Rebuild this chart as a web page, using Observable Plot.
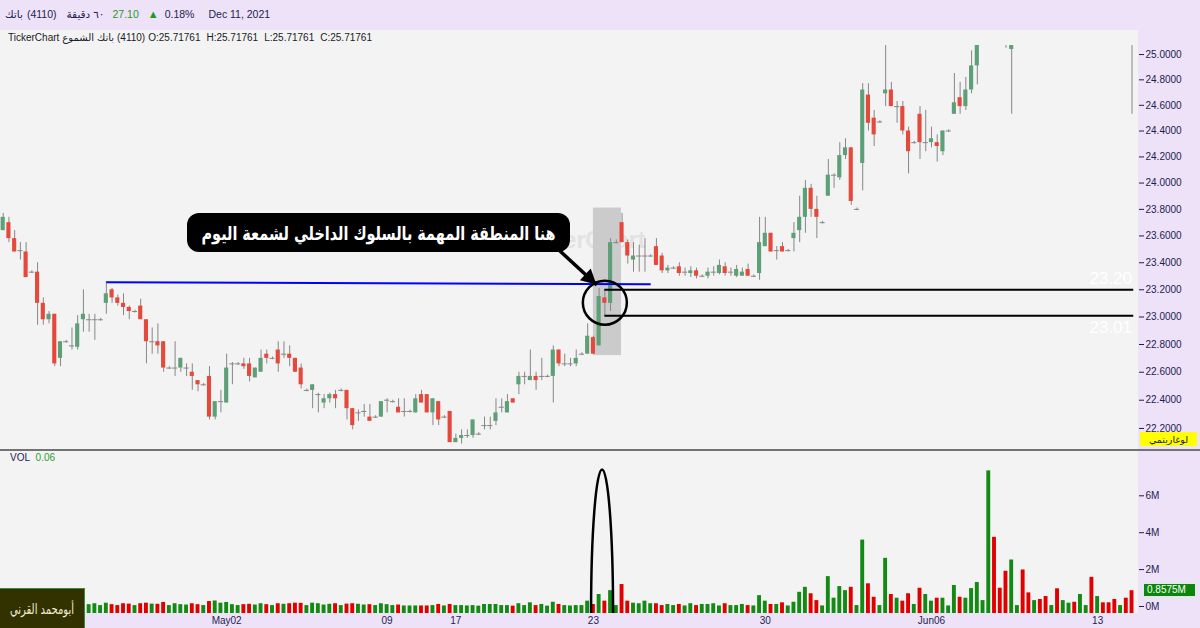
<!DOCTYPE html>
<html>
<head>
<meta charset="utf-8">
<script src="https://cdn.jsdelivr.net/npm/d3@7"></script>
<script src="https://cdn.jsdelivr.net/npm/@observablehq/plot@0.6"></script>
<style>
  html, body { margin: 0; padding: 0; }
  body { width: 1200px; height: 628px; overflow: hidden; background: #f3f3f3;
         font-family: "Liberation Sans", "DejaVu Sans", Arial, sans-serif; }
  #root { position: relative; width: 1200px; height: 628px; }
  .abs { position: absolute; }
  .row { display: flex; align-items: center; white-space: nowrap; }
  .fit { display: inline-block; white-space: nowrap; transform-origin: center center; }
</style>
</head>
<body>
<div id="root"></div>
<script>
// ---- 60-minute candles, 4110 ----
const opens = [
  23.64,23.70,23.58,23.49,23.48,23.33,23.33,23.10,22.98,23.02,
  22.70,22.82,22.79,22.78,22.98,22.98,22.98,22.98,23.10,23.20,
  23.14,23.10,23.07,23.04,23.08,22.98,22.82,22.82,22.82,22.63,
  22.63,22.63,22.63,22.60,22.54,22.51,22.57,22.28,22.39,22.38,
  22.66,22.66,22.66,22.66,22.56,22.60,22.73,22.70,22.76,22.73,
  22.73,22.70,22.63,22.47,22.47,22.44,22.38,22.41,22.44,22.47,
  22.47,22.34,22.31,22.32,22.28,22.28,22.28,22.40,22.39,22.35,
  22.32,22.32,22.31,22.44,22.44,22.31,22.39,22.28,22.32,22.10,
  22.13,22.15,22.15,22.16,22.22,22.22,22.25,22.35,22.31,22.41,
  22.51,22.57,22.54,22.57,22.57,22.57,22.57,22.76,22.66,22.66,
  22.66,22.73,22.73,22.85,22.79,23.14,23.10,23.55,23.70,23.55,
  23.42,23.45,23.45,23.45,23.52,23.45,23.34,23.36,23.37,23.33,
  23.32,23.34,23.30,23.30,23.33,23.32,23.37,23.33,23.30,23.30,
  23.35,23.30,23.32,23.52,23.62,23.49,23.52,23.49,23.58,23.64,
  23.74,23.96,23.80,23.70,23.90,24.06,24.04,24.21,24.27,23.80,
  24.15,24.68,24.50,24.47,24.69,24.72,24.59,24.59,24.40,24.31,
  24.53,24.31,24.31,24.31,24.24,24.40,24.53,24.66,24.59,24.72,
  24.91,25.12,25.20,25.90,25.70,25.60,25.04,25.50,25.55,25.35,
  25.25,25.35,25.30,25.22,25.26,25.16,25.28,25.36,25.30,25.46,
  25.48,25.26,25.36,25.32,25.28,25.20,25.24,25.18
];
const highs = [
  23.77,23.74,23.64,23.55,23.55,23.34,23.40,23.14,23.04,23.02,
  22.82,22.83,22.92,23.01,23.20,23.02,23.02,22.99,23.26,23.21,
  23.16,23.17,23.08,23.05,23.13,22.98,22.92,22.95,22.82,22.64,
  22.82,22.70,22.66,22.66,22.54,22.52,22.64,22.39,22.47,22.73,
  22.67,22.67,22.70,22.70,22.63,22.76,22.76,22.71,22.82,22.82,
  22.79,22.70,22.66,22.48,22.51,22.45,22.44,22.45,22.47,22.48,
  22.47,22.34,22.33,22.37,22.37,22.29,22.39,22.41,22.40,22.41,
  22.41,22.33,22.44,22.47,22.44,22.41,22.39,22.29,22.32,22.16,
  22.19,22.19,22.26,22.17,22.28,22.28,22.41,22.41,22.44,22.41,
  22.60,22.60,22.76,22.60,22.70,22.58,22.79,22.76,22.73,22.70,
  22.76,22.74,22.95,22.86,23.21,23.20,23.58,23.57,23.77,23.57,
  23.55,23.53,23.58,23.46,23.58,23.47,23.38,23.37,23.40,23.36,
  23.37,23.36,23.31,23.36,23.37,23.42,23.40,23.36,23.38,23.36,
  23.39,23.31,23.74,23.74,23.62,23.52,23.55,23.50,23.70,23.90,
  24.02,23.99,23.90,23.71,24.18,24.07,24.31,24.34,24.27,23.81,
  24.77,24.77,24.56,24.48,25.10,24.78,24.63,24.63,24.43,24.32,
  24.59,24.56,24.43,24.37,24.40,24.41,24.85,24.78,24.82,25.03,
  25.15,25.24,26.00,26.05,25.78,25.66,25.60,25.60,25.62,25.40,
  25.40,25.40,25.34,25.30,25.30,25.30,25.40,25.40,25.50,25.50,
  25.52,25.40,25.40,25.36,25.30,25.26,25.30,25.24
];
const lows = [
  23.64,23.55,23.48,23.42,23.29,23.32,22.94,22.94,22.95,22.64,
  22.64,22.81,22.76,22.76,22.89,22.89,22.83,22.97,23.02,23.10,
  23.08,23.01,22.98,23.03,22.98,22.66,22.73,22.73,22.60,22.62,
  22.57,22.60,22.57,22.47,22.46,22.50,22.26,22.26,22.31,22.38,
  22.51,22.65,22.62,22.53,22.56,22.60,22.66,22.69,22.60,22.70,
  22.64,22.60,22.48,22.46,22.34,22.31,22.34,22.38,22.34,22.46,
  22.26,22.19,22.25,22.28,22.25,22.27,22.28,22.31,22.38,22.31,
  22.28,22.31,22.31,22.38,22.31,22.22,22.22,22.27,22.10,22.10,
  22.09,22.13,22.13,22.15,22.19,22.19,22.22,22.31,22.31,22.38,
  22.44,22.51,22.54,22.47,22.54,22.56,22.38,22.64,22.64,22.64,
  22.64,22.72,22.73,22.73,22.79,23.01,23.04,23.54,23.55,23.39,
  23.33,23.33,23.33,23.44,23.38,23.32,23.32,23.35,23.30,23.30,
  23.29,23.28,23.29,23.28,23.30,23.31,23.30,23.30,23.29,23.30,
  23.30,23.29,23.27,23.52,23.48,23.42,23.48,23.48,23.48,23.55,
  23.62,23.74,23.58,23.69,23.90,23.96,24.02,24.18,23.83,23.79,
  23.94,24.40,24.28,24.46,24.59,24.59,24.46,24.37,24.07,24.30,
  24.18,24.24,24.27,24.16,24.21,24.39,24.53,24.53,24.56,24.69,
  24.76,25.10,25.16,25.60,25.50,25.05,24.53,25.45,25.30,25.20,
  25.22,25.25,25.18,25.20,25.12,25.14,25.26,25.28,25.28,25.42,
  25.20,25.22,25.28,25.24,25.16,25.18,25.14,24.53
];
const closes = [
  23.74,23.58,23.48,23.49,23.29,23.33,23.10,22.98,23.02,22.66,
  22.82,22.82,22.79,22.95,23.02,22.98,22.98,22.98,23.17,23.14,
  23.10,23.07,23.04,23.04,22.98,22.82,22.82,22.79,22.63,22.63,
  22.63,22.70,22.63,22.57,22.51,22.51,22.28,22.39,22.39,22.63,
  22.66,22.66,22.64,22.57,22.63,22.70,22.70,22.70,22.66,22.73,
  22.70,22.60,22.51,22.47,22.51,22.44,22.41,22.44,22.41,22.47,
  22.34,22.22,22.31,22.32,22.25,22.28,22.39,22.40,22.39,22.31,
  22.32,22.32,22.41,22.38,22.31,22.41,22.26,22.28,22.10,22.13,
  22.15,22.15,22.26,22.16,22.22,22.22,22.31,22.35,22.39,22.38,
  22.57,22.57,22.57,22.54,22.57,22.57,22.76,22.66,22.66,22.66,
  22.70,22.73,22.86,22.73,23.15,23.10,23.55,23.55,23.55,23.45,
  23.45,23.45,23.45,23.45,23.38,23.34,23.36,23.36,23.32,23.33,
  23.34,23.30,23.30,23.33,23.33,23.38,23.32,23.33,23.35,23.33,
  23.30,23.30,23.55,23.62,23.48,23.49,23.48,23.49,23.62,23.74,
  23.96,23.80,23.74,23.70,24.06,24.06,24.21,24.27,23.86,23.80,
  24.72,24.46,24.37,24.47,24.72,24.59,24.59,24.40,24.24,24.31,
  24.31,24.31,24.34,24.28,24.40,24.40,24.62,24.59,24.72,24.91,
  25.12,25.20,25.90,25.70,25.60,25.40,25.50,25.55,25.35,25.25,
  25.35,25.30,25.22,25.26,25.16,25.28,25.36,25.30,25.46,25.48,
  25.26,25.36,25.32,25.28,25.20,25.24,25.18,25.14
];
// volume per candle, millions of shares
const volumes = [
  0.20,0.15,0.18,0.10,0.25,0.05,0.30,0.20,0.10,0.28,
  0.20,0.05,0.12,0.18,0.15,0.10,0.15,0.05,0.18,0.10,
  0.05,0.15,0.13,0.05,0.15,0.18,0.13,0.12,0.22,0.05,
  0.15,0.10,0.08,0.15,0.10,0.05,0.27,0.30,0.18,0.22,
  0.10,0.05,0.10,0.12,0.08,0.15,0.10,0.05,0.15,0.12,
  0.15,0.18,0.17,0.05,0.18,0.15,0.08,0.12,0.15,0.05,
  0.13,0.15,0.12,0.08,0.10,0.05,0.15,0.10,0.05,0.08,
  0.03,0.03,0.03,0.03,0.03,0.05,0.11,0.03,0.11,0.05,
  0.05,0.03,0.05,0.02,0.11,0.11,0.11,0.05,0.05,0.02,
  0.15,0.05,0.20,0.05,0.11,0.02,0.23,0.11,0.05,0.03,
  0.05,0.05,0.29,0.11,0.65,0.29,0.86,0.05,1.19,0.29,
  0.18,0.15,0.29,0.15,0.15,0.05,0.11,0.05,0.11,0.03,
  0.15,0.05,0.11,0.11,0.15,0.03,0.15,0.05,0.05,0.11,
  0.05,0.03,0.59,0.29,0.11,0.11,0.20,0.03,0.23,0.77,
  1.04,0.69,0.32,0.03,1.62,0.45,1.08,0.86,1.04,0.05,
  3.60,1.23,0.50,0.05,2.61,0.65,0.45,0.29,0.69,0.11,
  0.99,0.65,0.29,0.45,0.45,0.03,1.14,0.50,0.45,0.97,
  1.30,0.32,7.35,3.75,0.99,1.91,2.52,0.05,1.98,0.74,
  0.32,0.38,0.54,0.05,0.96,0.32,0.18,0.23,0.65,0.05,
  1.58,0.54,0.20,0.20,0.38,0.05,0.45,0.8575
];
const priceTicks = [22.2,22.4,22.6,22.8,23.0,23.2,23.4,23.6,23.8,24.0,24.2,24.4,24.6,24.8,25.0];
const volumeTicks = [0, 2, 4, 6];
const dateTicks = [39, 67, 79, 103, 133, 162, 191];
const dateLabels = ["May02", "09", "17", "23", "30", "Jun06", "13"];

// annotation anchors (candle index / price)
const insideIndex = 105;              // the inside candle of the 23rd
const focusBand = {from: 103.0, to: 107.9, low: 22.72, high: 23.81};
const resistance = {from: 18, to: 113, y1: 23.255, y2: 23.24};
const pointer = {x1: 96.6, y1: 23.51, x2: 103.6, y2: 23.235};

const LAV = "#eee2f8", INK = "#1d1d4f";
const n = opens.length;
const candles = d3.range(n).map(i => ({i, o: opens[i], h: highs[i], l: lows[i], c: closes[i], v: volumes[i]}));
const up = candles.filter(d => d.c - d.o > 0.004);
const down = candles.filter(d => d.o - d.c > 0.004);
const flat = candles.filter(d => Math.abs(d.c - d.o) <= 0.004);
const inside = candles[insideIndex];
const xDomain = [-0.47, 198.13];
const axisStyle = {background: "transparent", fontFamily: "Liberation Sans, Arial, sans-serif",
                   fontSize: "10px", color: INK, overflow: "visible"};

const root = document.getElementById("root");
function box(css, html) {
  const el = document.createElement("div");
  el.className = "abs";
  el.style.cssText = css;
  if (html !== undefined) el.innerHTML = html;
  root.appendChild(el);
  return el;
}
// squeeze a single-line label horizontally into a given width
function fitWidth(el, width) {
  const span = el.querySelector(".fit");
  const w = span.getBoundingClientRect().width;
  if (w > width) span.style.transform = `scaleX(${width / w})`;
}

// panels
box(`left:0;top:0;width:1200px;height:30px;background:${LAV};`);
box(`left:1138px;top:30px;width:62px;height:598px;background:${LAV};`);
box(`left:0;top:613px;width:1200px;height:15px;background:${LAV};`);
box(`left:0;top:449px;width:1200px;height:2px;background:#737373;`);

// watermark (the callout is laid over its left part)
box(`left:518px;top:227px;font:bold 23px 'Liberation Sans',Arial,sans-serif;color:#e2e2e2;white-space:nowrap;`, "TickerChart");

// price panel
const price = Plot.plot({
  width: 1200, height: 419,
  marginTop: 15, marginBottom: 0, marginLeft: 0, marginRight: 62,
  style: axisStyle,
  x: {domain: xDomain, axis: null},
  y: {type: "log", domain: [22.052, 25.072], axis: "right", ticks: priceTicks,
      tickFormat: d => d.toFixed(4), tickSize: 5, tickPadding: 2, label: null},
  marks: [
    Plot.rect([focusBand], {x1: "from", x2: "to", y1: "low", y2: "high", fill: "#cbcbcb"}),
    Plot.ruleX(candles, {x: "i", y1: "l", y2: "h", stroke: "#878787", strokeWidth: 1, clip: true}),
    Plot.ruleY(flat, {y: "o", x1: d => d.i - 0.45, x2: d => d.i + 0.45, stroke: "#878787", clip: true}),
    Plot.rect(up, {x1: d => d.i - 0.36, x2: d => d.i + 0.36, y1: "o", y2: "c", fill: "#5d9f77", clip: true}),
    Plot.rect(down, {x1: d => d.i - 0.36, x2: d => d.i + 0.36, y1: "o", y2: "c", fill: "#e5493b", clip: true}),
    Plot.link([resistance], {x1: "from", x2: "to", y1: "y1", y2: "y2", stroke: "#0000ff", strokeWidth: 2}),
    Plot.ruleY([inside.h, inside.l], {y: d => d, x1: inside.i, x2: n - 0.7, stroke: "#000", strokeWidth: 2}),
    Plot.text([inside.h], {x: n - 1, y: d => d, text: d => d.toFixed(2), textAnchor: "end",
                           dy: -11, fill: "#ffffff", fontSize: 17}),
    Plot.text([inside.l], {x: n - 1, y: d => d, text: d => d.toFixed(2), textAnchor: "end",
                           dy: 12, fill: "#ffffff", fontSize: 17}),
    Plot.dot([inside], {x: "i", y: d => Math.sqrt(d.h * d.l), r: 22, stroke: "#000", strokeWidth: 2.5, fill: "none"}),
    Plot.link([pointer], {x1: "x1", y1: "y1", x2: "x2", y2: "y2", stroke: "#000", strokeWidth: 3.5})
  ]
});
// solid arrowhead at the pointer tip
{
  const sx = price.scale("x"), sy = price.scale("y");
  const x1 = sx.apply(pointer.x1), y1 = sy.apply(pointer.y1);
  const x2 = sx.apply(pointer.x2), y2 = sy.apply(pointer.y2);
  const len = Math.hypot(x2 - x1, y2 - y1), ux = (x2 - x1) / len, uy = (y2 - y1) / len;
  const L = 15, Wd = 8;
  const bx = x2 - L * ux, by = y2 - L * uy;
  d3.select(price).append("path")
    .attr("d", `M${x2},${y2}L${bx - Wd * uy},${by + Wd * ux}L${bx + Wd * uy},${by - Wd * ux}Z`)
    .attr("fill", "#000");
}
const priceWrap = box("left:0;top:30px;");
priceWrap.appendChild(price);

// volume panel
const volMin = -0.379, volMax = 7.913;
const vol = Plot.plot({
  width: 1200, height: 177,
  marginTop: 9, marginBottom: 15, marginLeft: 0, marginRight: 62,
  style: axisStyle,
  x: {domain: xDomain, ticks: dateTicks, tickFormat: i => dateLabels[dateTicks.indexOf(i)],
      tickSize: 0, tickPadding: 3, label: null},
  y: {domain: [volMin, volMax], axis: "right", ticks: volumeTicks, tickFormat: d => d + "M",
      tickSize: 5, tickPadding: 2, label: null},
  marks: [
    Plot.rect(candles.filter(d => d.c >= d.o), {x1: d => d.i - 0.34, x2: d => d.i + 0.34, y1: volMin, y2: "v", fill: "#138a13"}),
    Plot.rect(candles.filter(d => d.c < d.o), {x1: d => d.i - 0.34, x2: d => d.i + 0.34, y1: volMin, y2: "v", fill: "#e10000"})
  ]
});
// arch around the breakout volume
{
  const sx = vol.scale("x"), sy = vol.scale("y");
  const cx = sx.apply(inside.i - 0.4), base = sy.apply(volMin), top = sy.apply(7.4);
  d3.select(vol).append("path")
    .attr("d", `M${cx - 11},${base} A11,${base - top} 0 0 1 ${cx + 11},${base}`)
    .attr("fill", "none").attr("stroke", "#000").attr("stroke-width", 2.5);
}
const volWrap = box("left:0;top:451px;");
volWrap.appendChild(vol);

// last volume tag
{
  const yy = 451 + vol.scale("y").apply(volumes[n - 1]);
  box(`left:1143px;top:${yy - 7}px;width:53px;height:14px;background:#0c850c;border:1px solid #d8f0d8;box-sizing:border-box;
       color:#fff;font:10px 'Liberation Sans',Arial,sans-serif;line-height:12px;padding-left:3px;`,
      (volumes[n - 1]).toFixed(4) + "M");
}

// header line
box(`left:5px;top:8px;font:10.5px 'Liberation Sans','DejaVu Sans',sans-serif;color:${INK};`,
  `<div class="row" style="gap:0">
     <span dir="rtl">باتك</span><span style="margin-left:4px">(4110)</span>
     <span dir="rtl" style="margin-left:10px">٦٠ دقيقة</span>
     <span style="margin-left:8px;color:#1f9a1f">27.10</span>
     <span style="margin-left:9px;color:#1f9a1f;font-size:11px">▲</span>
     <span style="margin-left:6px">0.18%</span>
     <span style="margin-left:14px">Dec 11, 2021</span>
   </div>`);

// instrument line
box(`left:8px;top:32px;font:10px 'Liberation Sans','DejaVu Sans',sans-serif;color:#1a1a2a;`,
  `<div class="row">
     <span>TickerChart</span><span dir="rtl" style="margin-left:3px">الشموع</span>
     <span dir="rtl" style="margin-left:3px">باتك</span><span style="margin-left:3px">(4110)</span>
     <span style="margin-left:3px">O:25.71761</span><span style="margin-left:6px">H:25.71761</span>
     <span style="margin-left:6px">L:25.71761</span><span style="margin-left:6px">C:25.71761</span>
   </div>`);

// volume title
box(`left:10px;top:452px;font:10px 'Liberation Sans',sans-serif;`,
  `<span style="color:${INK}">VOL</span>&nbsp;&nbsp;<span style="color:#2aa02a">0.06</span>`);

// callout
const callout = box(`left:187px;top:213px;width:383px;height:39px;background:#000;border-radius:12px;
     color:#fff;font:bold 19px 'DejaVu Sans',sans-serif;display:flex;align-items:center;justify-content:center;overflow:hidden;`,
  `<span class="fit" dir="rtl">هنا المنطقة المهمة بالسلوك الداخلي لشمعة اليوم</span>`);
fitWidth(callout, 354);

// scale mode tag
box(`left:1140px;top:432px;width:57px;height:14px;background:#ffff00;color:#222;
     font:9.5px 'DejaVu Sans',sans-serif;display:flex;align-items:center;justify-content:center;`,
  `<span dir="rtl">لوغاريتمي</span>`);

// signature
const sig = box(`left:0;top:588px;width:84px;height:40px;background:#323200;border-top:1px solid #3d8a3d;border-right:1px solid #3d8a3d;
     color:#f3ecd2;font:14px 'DejaVu Sans',sans-serif;display:flex;align-items:center;justify-content:center;overflow:hidden;`,
  `<span class="fit" dir="rtl">أبومحمد القرني</span>`);
fitWidth(sig, 64);
</script>
</body>
</html>
